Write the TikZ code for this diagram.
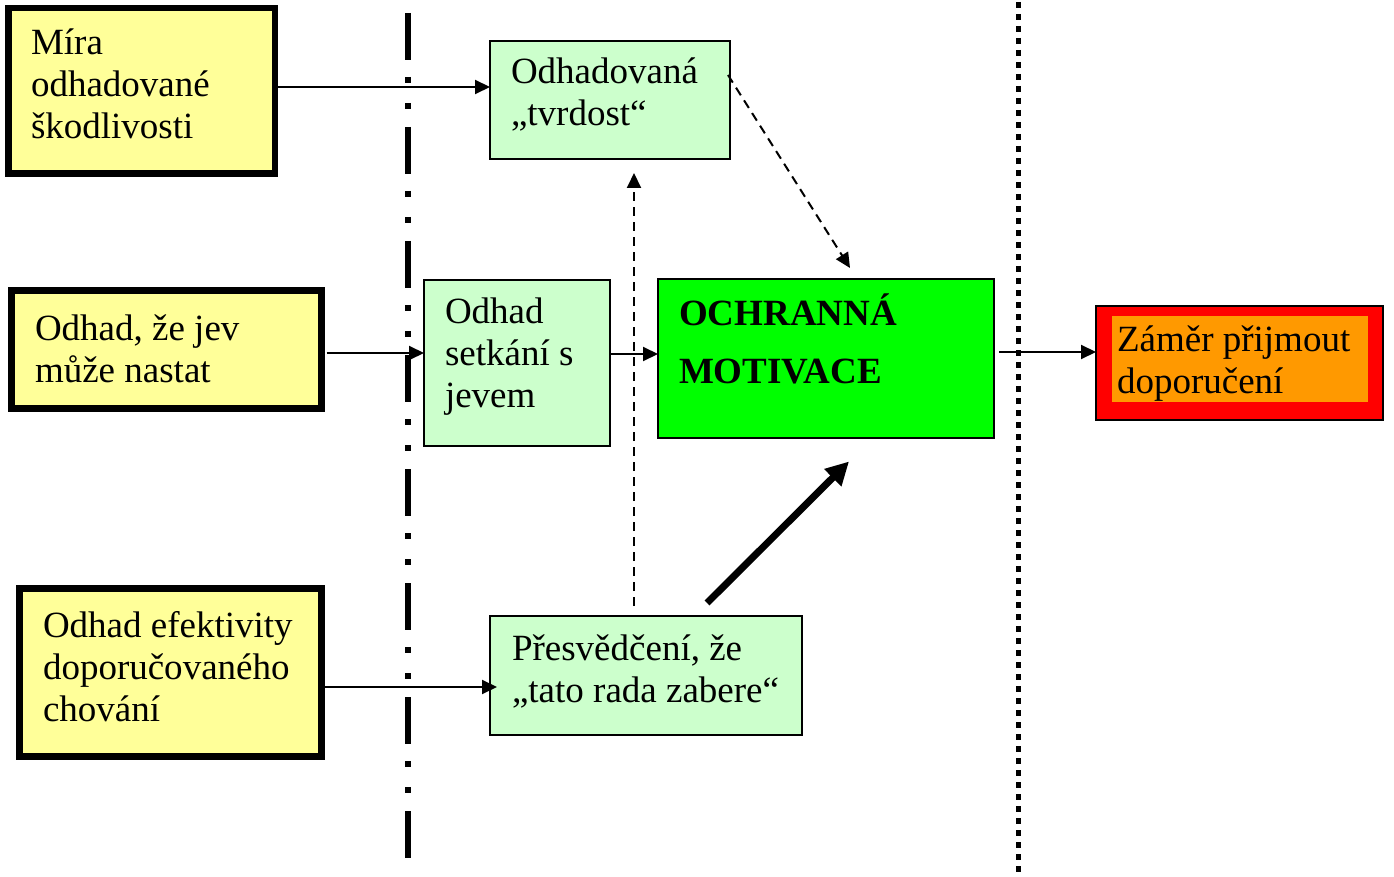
\documentclass[tikz,border=0pt]{standalone}
\usepackage{fontspec}
\setmainfont{Liberation Serif}
\usetikzlibrary{arrows.meta}
\definecolor{ybox}{HTML}{FFFF99}
\definecolor{gbox}{HTML}{CCFFCC}
\definecolor{mbox}{HTML}{00FF00}
\definecolor{rbox}{HTML}{FF0000}
\definecolor{obox}{HTML}{FF9900}
\begin{document}
\begin{tikzpicture}[x=1pt,y=-1pt,
  box/.style={rectangle, inner sep=0pt, outer sep=0pt},
  thickbox/.style={box, draw, line width=6.5pt, fill=ybox},
  thinbox/.style={box, draw, line width=2pt, fill=gbox},
  txt/.style={inner sep=0pt, outer sep=0pt, anchor=base west, align=flush left, font=\fontsize{37}{42}\selectfont},
  arr/.style={line width=2pt, -{Triangle[length=15pt,width=14pt]}},
  darr/.style={arr, dash pattern=on 9pt off 6pt},
  bigarr/.style={line width=7pt, -{Triangle[length=23pt,width=23pt]}}]
\useasboundingbox (0,0) rectangle (1394,877);

% separator lines
\draw[line width=6pt, dash pattern=on 47pt off 17pt on 6pt off 20pt on 6pt off 18pt] (408,13) -- (408,858);
\draw[line width=5pt, dash pattern=on 6pt off 6pt] (1018,2) -- (1018,877);

% boxes
\node[thickbox, minimum width=266.5pt, minimum height=165.5pt] (mira) at (141.5,91) {};
\node[thickbox, minimum width=310pt, minimum height=118pt] (jev) at (166.5,349.5) {};
\node[thickbox, minimum width=302pt, minimum height=168pt] (efekt) at (170.5,672.5) {};
\node[thinbox, minimum width=240pt, minimum height=118pt] (tvrd) at (610,100) {};
\node[thinbox, minimum width=186pt, minimum height=166pt] (setk) at (517,363) {};
\node[thinbox, fill=mbox, minimum width=336pt, minimum height=159pt] (ochr) at (826,358.5) {};
\node[thinbox, minimum width=312pt, minimum height=119pt] (pres) at (646,675.5) {};
\node[box, draw, line width=2pt, fill=rbox, minimum width=287pt, minimum height=114pt] (zamer) at (1239.5,363) {};
\node[box, fill=obox, minimum width=256pt, minimum height=86pt] (zamerin) at (1240,359) {};

% texts
\node[txt, text width=240pt] (mira-t) at (31,55) {Míra\\odhadované\\škodlivosti};
\node[txt, text width=280pt] (jev-t) at (35,340) {Odhad, že jev\\může nastat};
\node[txt, text width=270pt] (efekt-t) at (43,637) {Odhad efektivity\\doporučovaného\\chování};
\node[txt, text width=210pt] (tvrd-t) at (511,84) {Odhadovaná\\„tvrdost“};
\node[txt, text width=160pt] (setk-t) at (445,323) {Odhad\\setkání s\\jevem};
\node[txt, text width=300pt, font=\fontsize{37}{58}\selectfont\bfseries] (ochr-t) at (679,325) {OCHRANNÁ\\MOTIVACE};
\node[txt, text width=290pt] (pres-t) at (512,660) {Přesvědčení, že\\„tato rada zabere“};
\node[txt, text width=250pt] (zamer-t) at (1117,351) {Záměr přijmout\\doporučení};

% connectors
\draw[arr] ([yshift=4pt]mira.east) -- ([yshift=13pt]tvrd.west);
\draw[arr] ([xshift=5pt,yshift=-3.5pt]jev.east) -- ([yshift=10pt]setk.west);
\draw[arr] ([yshift=9pt]setk.east) -- ([yshift=4.5pt]ochr.west);
\draw[arr] ([xshift=5pt,yshift=6.5pt]ochr.east) -- ([yshift=11pt]zamer.west);
\draw[arr] ([yshift=-14.5pt]efekt.east) -- ([xshift=7pt,yshift=-11.5pt]pres.west);
\draw[darr] ([xshift=-12pt,yshift=10pt]pres.north) -- ([xshift=24pt,yshift=-14pt]tvrd.south);
\draw[darr] ([xshift=-2pt,yshift=-34pt]tvrd.north east) -- ([xshift=24pt,yshift=11pt]ochr.north);
\draw[bigarr] ([xshift=61pt,yshift=13pt]pres.north) -- ([xshift=23pt,yshift=-23.5pt]ochr.south);
\end{tikzpicture}
\end{document}
